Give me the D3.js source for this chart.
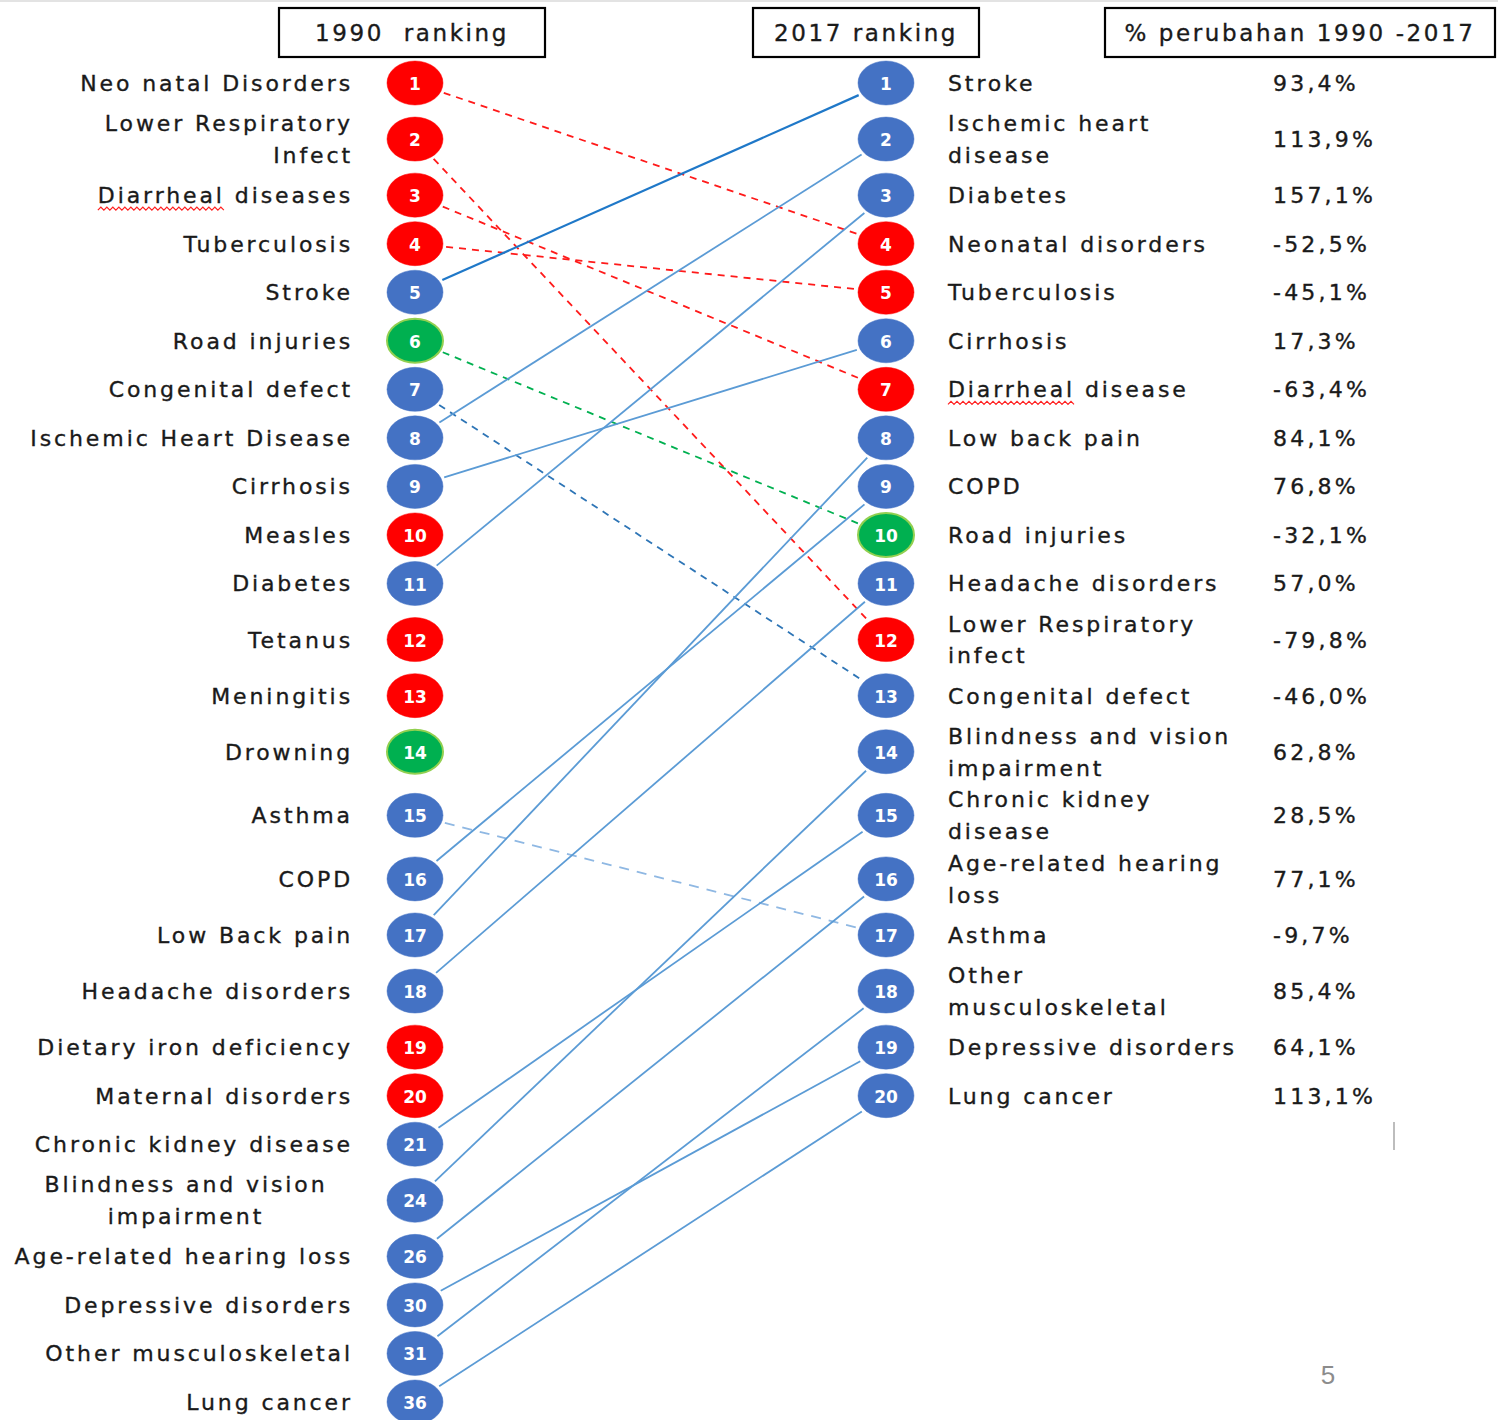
<html>
  <head>
    <meta charset="utf-8" />
    <script src="https://d3js.org/d3.v7.min.js"></script>
    <style>
      body {
        margin: 0;
        background: #fff;
      }
      text {
        font-family: "DejaVu Sans", sans-serif;
      }
      .lbl {
        font-size: 22px;
        letter-spacing: 2.9px;
        fill: #1a1a1a;
        stroke: #1a1a1a;
        stroke-width: 0.35px;
      }
      .num {
        font-size: 17px;
        font-weight: bold;
        fill: #fff;
      }
    </style>
  </head>

  <body>
    <svg id="chart" width="1498" height="1420"></svg>
    <script>
      // ---- data ----
      var rank1990 = [1, 2, 3, 4, 5, 6, 7, 8, 9, 10, 11, 12, 13, 14, 15, 16, 17, 18, 19, 20, 21, 24, 26, 30, 31, 36];
      var names1990 = [
        "Neo natal Disorders", "Lower Respiratory\nInfect", "Diarrheal diseases", "Tuberculosis",
        "Stroke", "Road injuries", "Congenital defect", "Ischemic Heart Disease", "Cirrhosis",
        "Measles", "Diabetes", "Tetanus", "Meningitis", "Drowning", "Asthma", "COPD",
        "Low Back pain", "Headache disorders", "Dietary iron deficiency", "Maternal disorders",
        "Chronic kidney disease", "Blindness and vision\nimpairment", "Age-related hearing loss",
        "Depressive disorders", "Other musculoskeletal", "Lung cancer"
      ];
      // c = communicable/maternal/neonatal, n = non-communicable, i = injuries
      var group1990 = ["c","c","c","c","n","i","n","n","n","c","n","c","c","i","n","n","n","n","c","c","n","n","n","n","n","n"];
      // where each 1990 cause sits in 2017 (null = not in 2017 top 20)
      var to2017 = [4, 12, 7, 5, 1, 10, 13, 2, 6, null, 3, null, null, null, 17, 9, 8, 11, null, null, 15, 14, 16, 19, 18, 20];

      var rank2017 = d3.range(1, 21);
      var names2017 = [
        "Stroke", "Ischemic heart\ndisease", "Diabetes", "Neonatal disorders", "Tuberculosis",
        "Cirrhosis", "Diarrheal disease", "Low back pain", "COPD", "Road injuries",
        "Headache disorders", "Lower Respiratory\ninfect", "Congenital defect",
        "Blindness and vision\nimpairment", "Chronic kidney\ndisease", "Age-related hearing\nloss",
        "Asthma", "Other\nmusculoskeletal", "Depressive disorders", "Lung cancer"
      ];
      var group2017 = ["n","n","n","c","c","n","c","n","n","i","n","c","n","n","n","n","n","n","n","n"];
      var change2017 = [
        "93,4%", "113,9%", "157,1%", "-52,5%", "-45,1%", "17,3%", "-63,4%", "84,1%", "76,8%", "-32,1%",
        "57,0%", "-79,8%", "-46,0%", "62,8%", "28,5%", "77,1%", "-9,7%", "85,4%", "64,1%", "113,1%"
      ];

      var headers = ["1990  ranking", "2017 ranking", "% perubahan 1990 -2017"];

      // ---- layout ----
      var svg = d3.select("#chart");
      var fill = { c: "#ff0000", n: "#4472c4", i: "#00b050" };
      var lineCol = { c: "#ff1a1a", n: "#5b9bd5", i: "#00b050" };
      var xL = 415, xR = 886, rx = 28, ry = 22;

      svg.append("line").attr("x1", 0).attr("x2", 1498).attr("y1", 1).attr("y2", 1)
        .attr("stroke", "#e3e3e3").attr("stroke-width", 2);

      // rows share one grid; two-line labels push their neighbours apart
      var nRows = names1990.length;
      var extra = d3.range(nRows).map(function (i) {
        var a = names1990[i].split("\n").length - 1;
        var b = i < names2017.length ? names2017[i].split("\n").length - 1 : 0;
        return Math.max(a, b);
      });
      var slot = [0];
      for (var i = 1; i < nRows; i++) slot.push(slot[i - 1] + 1 + 0.155 * (extra[i - 1] + extra[i]));
      var y = d3.scaleLinear().domain([0, slot[nRows - 1]]).range([83, 1402]);
      var rowY = function (i) { return y(slot[i]); };

      // header boxes
      var boxes = [
        { x: 279, w: 266, t: headers[0] },
        { x: 753, w: 226, t: headers[1] },
        { x: 1105, w: 390, t: headers[2] }
      ];
      var hb = svg.append("g").selectAll("g").data(boxes).join("g");
      hb.append("rect").attr("x", function (d) { return d.x; }).attr("y", 8)
        .attr("width", function (d) { return d.w; }).attr("height", 49)
        .attr("fill", "none").attr("stroke", "#000").attr("stroke-width", 2.2);
      hb.append("text").attr("class", "lbl").style("font-size", "23px").style("letter-spacing", "2.6px")
        .attr("x", function (d) { return d.x + d.w / 2; }).attr("y", 33)
        .attr("text-anchor", "middle").attr("dominant-baseline", "central")
        .style("white-space", "pre").text(function (d) { return d.t; });

      // connecting lines
      var links = [];
      to2017.forEach(function (r, i) {
        if (r == null) return;
        links.push({ i: i, j: r - 1, g: group1990[i], down: r > rank1990[i], name: names1990[i] });
      });

      function ends(d) {
        var x1 = xL, y1 = rowY(d.i), x2 = xR, y2 = rowY(d.j);
        var dx = x2 - x1, dy = y2 - y1;
        var t = 1.12 / Math.sqrt((dx / rx) * (dx / rx) + (dy / ry) * (dy / ry));
        return [x1 + dx * t, y1 + dy * t, x2 - dx * t, y2 - dy * t];
      }

      svg.append("g").selectAll("line").data(links).join("line")
        .attr("x1", function (d) { return ends(d)[0]; })
        .attr("y1", function (d) { return ends(d)[1]; })
        .attr("x2", function (d) { return ends(d)[2]; })
        .attr("y2", function (d) { return ends(d)[3]; })
        .attr("stroke", function (d) {
          if (d.name == "Stroke") return "#1f78c8";
          if (d.name == "Congenital defect") return "#2e75b6";
          if (d.name == "Asthma") return "#8fb8e3";
          return lineCol[d.g];
        })
        .attr("stroke-width", function (d) { return d.name == "Stroke" ? 2.2 : 1.8; })
        .attr("stroke-dasharray", function (d) {
          if (!d.down) return null;
          return d.name == "Asthma" ? "10,8" : "7,6";
        });

      // circles
      function dots(cx, ranks, groups) {
        var g = svg.append("g").selectAll("g").data(ranks).join("g")
          .attr("transform", function (d, i) { return "translate(" + cx + "," + rowY(i) + ")"; });
        g.append("ellipse").attr("rx", rx).attr("ry", ry)
          .attr("fill", function (d, i) { return fill[groups[i]]; })
          .attr("stroke", function (d, i) { return groups[i] == "i" ? "#92d050" : fill[groups[i]]; })
          .attr("stroke-width", function (d, i) { return groups[i] == "i" ? 2 : 0.5; });
        g.append("text").attr("class", "num").attr("text-anchor", "middle")
          .attr("dominant-baseline", "central").attr("y", 1).text(function (d) { return d; });
      }
      dots(xL, rank1990, group1990);
      dots(xR, rank2017, group2017);

      // labels
      function labels(x, names, anchor) {
        var t = svg.append("g").selectAll("text").data(names).join("text")
          .attr("class", "lbl")
          .attr("text-anchor", function (d) { return d.indexOf("Blindness") == 0 && anchor == "end" ? "middle" : anchor; })
          .attr("transform", function (d, i) {
            var xx = d.indexOf("Blindness") == 0 && anchor == "end" ? 186 : x;
            return "translate(" + xx + "," + rowY(i) + ")";
          });
        t.each(function (d) {
          var lines = d.split("\n");
          var el = d3.select(this);
          lines.forEach(function (s, k) {
            el.append("tspan").attr("x", 0)
              .attr("y", (k - (lines.length - 1) / 2) * 32)
              .attr("dy", "0.36em").text(s);
          });
        });
        return t;
      }
      var lt = labels(353, names1990, "end");
      var rt = labels(948, names2017, "start");

      svg.append("g").selectAll("text").data(change2017).join("text")
        .attr("class", "lbl").style("letter-spacing", "3.2px")
        .attr("x", 1273).attr("y", function (d, i) { return rowY(i); })
        .attr("dy", "0.36em").text(function (d) { return d; });

      // spell-check squiggle under "Diarrheal"
      function squiggle(sel) {
        sel.each(function (d, i) {
          if (d.indexOf("Diarrheal") != 0) return;
          var ts = d3.select(this).select("tspan").node();
          var bb = ts.getBBox();
          var w = ts.getSubStringLength(0, 9);
          var pts = [];
          for (var k = 0; k <= w; k += 3) pts.push([bb.x + k, (k / 3) % 2 ? 0 : 3]);
          var tr = d3.select(this).attr("transform");
          svg.append("path").attr("transform", tr + " translate(0,12)")
            .attr("d", d3.line()(pts)).attr("fill", "none")
            .attr("stroke", "#ff2020").attr("stroke-width", 1.2);
        });
      }
      squiggle(lt);
      squiggle(rt);

      // slide furniture
      svg.append("line").attr("x1", 1394).attr("x2", 1394).attr("y1", 1122).attr("y2", 1150)
        .attr("stroke", "#bdbdbd").attr("stroke-width", 2);
      svg.append("text").attr("x", 1328).attr("y", 1375).attr("text-anchor", "middle")
        .attr("dominant-baseline", "central").style("font-family", "'Liberation Sans', sans-serif")
        .style("font-size", "26px").attr("fill", "#8c8c8c").text("5");
    </script>
  </body>
</html>
